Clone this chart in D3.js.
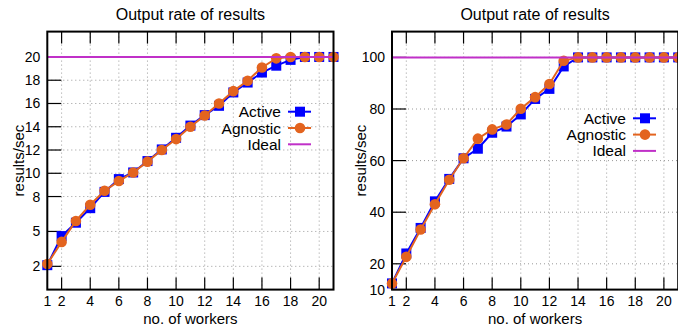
<!DOCTYPE html>
<html>
<head>
<meta charset="utf-8">
<script src="https://cdn.jsdelivr.net/npm/d3@7"></script>
<style>
  body { margin: 0; background: #fff; }
  svg text { font-family: "Liberation Sans", Arial, Helvetica, sans-serif; fill: #000; }
  .grid line { stroke: #999; stroke-width: 1; stroke-dasharray: 1,3; }
</style>
</head>
<body>
<div id="chart"></div>
<script>
// workers on x axis
var workers = [1,2,3,4,5,6,7,8,9,10,11,12,13,14,15,16,17,18,19,20,21];

// left panel: ideal rate 20
var leftActive   = [2.1,4.6,5.75,7.0,8.4,9.5,10.07,11.05,12.05,13.05,14.1,15.0,15.8,16.95,17.8,18.66,19.25,19.75,20,20,20];
var leftAgnostic = [2.2,4.1,5.9,7.3,8.5,9.33,10.07,11.0,12.0,12.94,14.0,14.97,16.0,17.06,17.95,19.1,19.88,20,20,20,20];
var leftIdeal = 20;
var leftYTicks = [2,5,8,10,12,14,16,18,20];

// right panel: ideal rate 100
var rightActive   = [12.4,24.0,33.9,44.2,52.9,60.9,64.6,70.8,73.2,77.9,83.9,87.8,96.5,100,100,100,100,100,100,100,100];
var rightAgnostic = [12.4,22.7,33.3,43.1,52.6,60.9,68.5,72.1,74.0,80.1,84.6,89.7,98.7,100,100,100,100,100,100,100,100];
var rightIdeal = 100;
var rightYTicks = [10,20,40,60,80,100];

var xTicks = [2,4,6,8,10,12,14,16,18,20];
var xLabels = [1,2,4,6,8,10,12,14,16,18,20];

var blue = '#0000ff', orange = '#e3641f', purple = '#c030c8';

var svg = d3.select('#chart').append('svg')
    .attr('width', 678).attr('height', 332);

function panel(cfg){
    var x = d3.scaleLinear().domain([1,21]).range([cfg.left, cfg.right]);
    var y = d3.scaleLinear().domain(cfg.ydomain).range([289.6, 31.6]);
    var g = svg.append('g');

    // grid
    var grid = g.append('g').attr('class','grid');
    grid.selectAll('.vx').data(xTicks).enter().append('line')
        .attr('x1', function(d){ return x(d); }).attr('x2', function(d){ return x(d); })
        .attr('y1', y.range()[0]).attr('y2', y.range()[1]);
    grid.selectAll('.hy').data(cfg.grid).enter().append('line')
        .attr('y1', function(d){ return y(d); }).attr('y2', function(d){ return y(d); })
        .attr('x1', cfg.left).attr('x2', cfg.right);

    // ticks (bottom, top, left)
    var ticks = g.append('g').attr('stroke','#000').attr('stroke-width',1.2);
    xTicks.forEach(function(d){
        ticks.append('line').attr('x1',x(d)).attr('x2',x(d)).attr('y1',289.6).attr('y2',277.6);
        ticks.append('line').attr('x1',x(d)).attr('x2',x(d)).attr('y1',31.6).attr('y2',43.6);
    });
    cfg.yticks.forEach(function(d){
        ticks.append('line').attr('x1',cfg.left).attr('x2',cfg.left+14).attr('y1',y(d)).attr('y2',y(d));
    });

    // tick labels
    g.selectAll('.xl').data(xLabels).enter().append('text')
        .attr('x', function(d){ return x(d); }).attr('y', 306)
        .attr('text-anchor','middle').style('font-size','14px')
        .text(function(d){ return d; });
    g.selectAll('.yl').data(cfg.yticks).enter().append('text')
        .attr('x', cfg.left - 7).attr('y', function(d){ return y(d) + 5; })
        .attr('text-anchor','end').style('font-size','14px')
        .text(function(d){ return d; });

    // titles
    g.append('text').attr('x', (cfg.left+cfg.right)/2).attr('y', 20)
        .attr('text-anchor','middle').style('font-size','16px').text('Output rate of results');
    g.append('text').attr('x', (cfg.left+cfg.right)/2).attr('y', 324)
        .attr('text-anchor','middle').style('font-size','15px').text('no. of workers');
    g.append('text').attr('transform','translate('+[cfg.labX, 160.6]+') rotate(-90)')
        .attr('text-anchor','middle').style('font-size','15px').text('results/sec');

    // series
    var line = d3.line().x(function(d){ return x(d[0]); }).y(function(d){ return y(d[1]); });
    var act = workers.map(function(w,i){ return [w, cfg.active[i]]; });
    var agn = workers.map(function(w,i){ return [w, cfg.agnostic[i]]; });

    g.append('path').datum(act).attr('d', line)
        .attr('fill','none').attr('stroke',blue).attr('stroke-width',2);
    g.selectAll('.sq').data(act).enter().append('rect')
        .attr('x', function(d){ return x(d[0]) - 5; }).attr('y', function(d){ return y(d[1]) - 5; })
        .attr('width',10).attr('height',10).attr('fill',blue);

    g.append('path').datum(agn).attr('d', line)
        .attr('fill','none').attr('stroke',orange).attr('stroke-width',2);
    g.selectAll('.ci').data(agn).enter().append('circle')
        .attr('cx', function(d){ return x(d[0]); }).attr('cy', function(d){ return y(d[1]); })
        .attr('r',5.3).attr('fill',orange);

    g.append('line').attr('x1',cfg.left).attr('x2',cfg.right)
        .attr('y1',y(cfg.ideal)).attr('y2',y(cfg.ideal))
        .attr('stroke',purple).attr('stroke-width',2);

    // legend
    var lg = g.append('g').style('font-size','15.5px');
    var items = [
        {name:'Active', color:blue, mark:'sq'},
        {name:'Agnostic', color:orange, mark:'ci'},
        {name:'Ideal', color:purple, mark:null}
    ];
    items.forEach(function(it, i){
        var cy = cfg.legY + i*16.3;
        lg.append('text').attr('x', cfg.legX).attr('y', cy + 5.5)
            .attr('text-anchor','end').text(it.name);
        lg.append('line').attr('x1', cfg.legX+7).attr('x2', cfg.legX+30)
            .attr('y1', cy).attr('y2', cy).attr('stroke', it.color).attr('stroke-width',2);
        if (it.mark == 'sq')
            lg.append('rect').attr('x', cfg.legX+14).attr('y', cy-5).attr('width',10).attr('height',10).attr('fill',it.color);
        else if (it.mark == 'ci')
            lg.append('circle').attr('cx', cfg.legX+19).attr('cy', cy).attr('r',5.3).attr('fill',it.color);
    });

    // frame
    g.append('rect').attr('x',cfg.left).attr('y',31.6)
        .attr('width',cfg.right-cfg.left).attr('height',258)
        .attr('fill','none').attr('stroke','#000').attr('stroke-width',2);
}

panel({left:47.3, right:333.5, ydomain:[0,22.18], grid:[2,5,8,10,12,14,16,18,20], yticks:leftYTicks,
       active:leftActive, agnostic:leftAgnostic, ideal:leftIdeal, legX:281, legY:111.7, labX:24});
panel({left:392, right:678.2, ydomain:[10,110], grid:[20,40,60,80,100], yticks:rightYTicks,
       active:rightActive, agnostic:rightAgnostic, ideal:rightIdeal, legX:626, legY:118.3, labX:366});
</script>
</body>
</html>
